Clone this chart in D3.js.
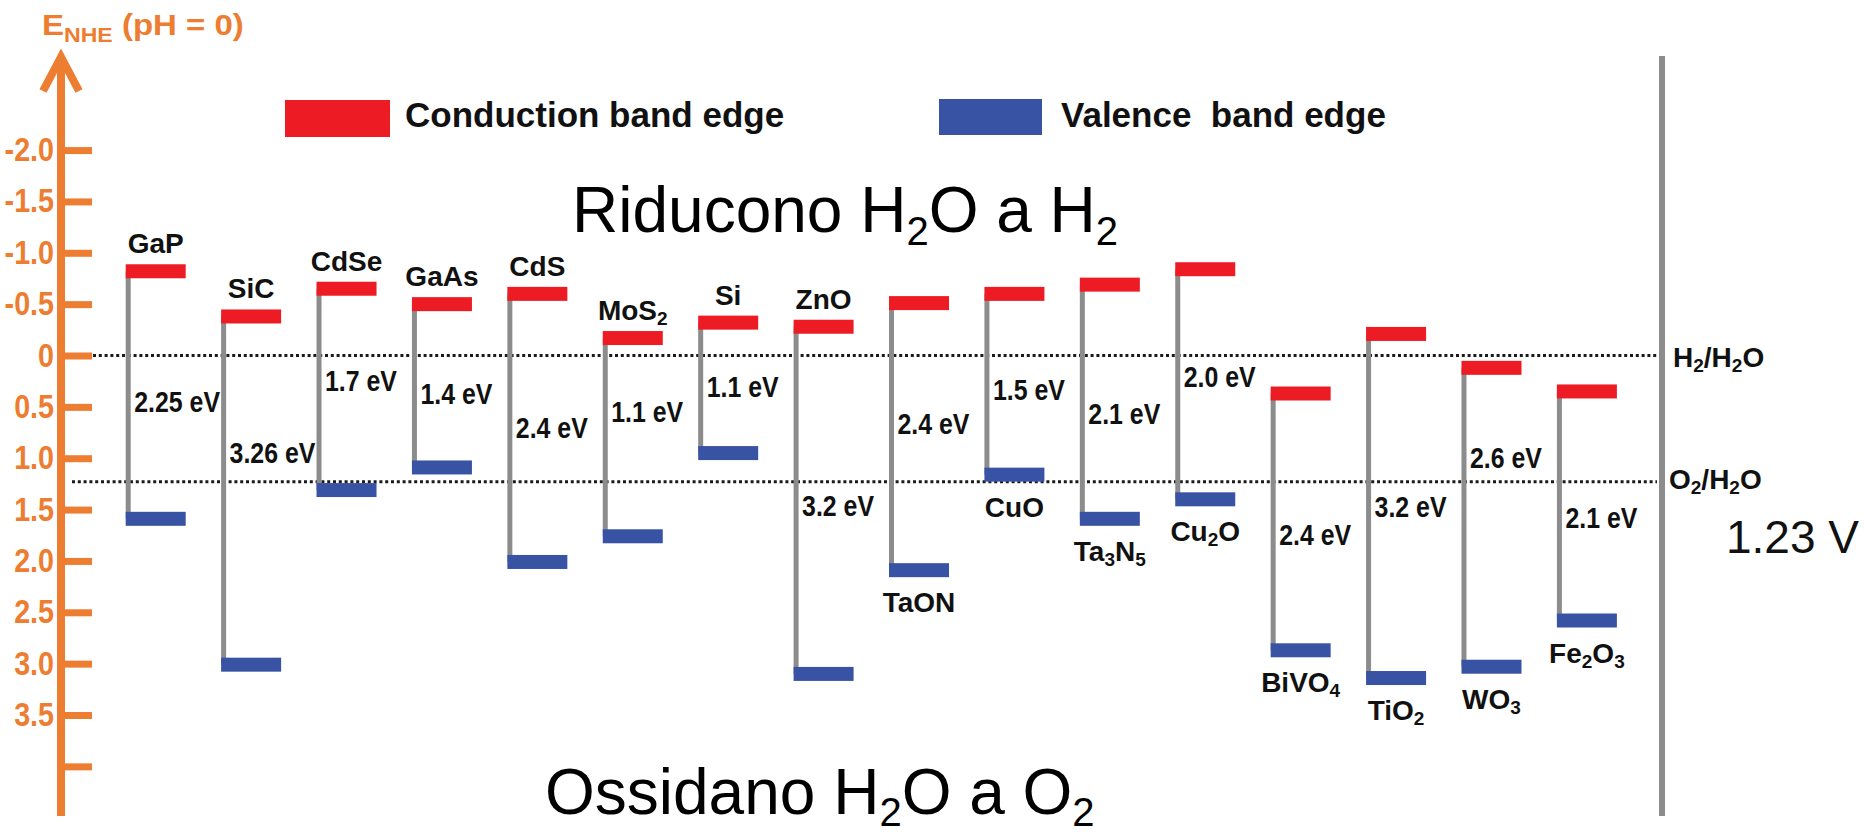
<!DOCTYPE html>
<html>
<head>
<meta charset="utf-8">
<script src="https://cdn.jsdelivr.net/npm/d3@7"></script>
<style>
  body { margin: 0; background: #fff; }
  svg { display: block; font-family: "Liberation Sans", Arial, sans-serif; }
</style>
</head>
<body>
<svg id="chart" width="1865" height="836"></svg>
<script>

// band edges vs NHE (eV)
var materials = ["GaP","SiC","CdSe","GaAs","CdS","MoS2","Si","ZnO","TaON","CuO","Ta3N5","Cu2O","BiVO4","TiO2","WO3","Fe2O3"];
var conductionBand = [-0.82,-0.38,-0.65,-0.50,-0.60,-0.17,-0.32,-0.28,-0.51,-0.60,-0.69,-0.84,0.37,-0.21,0.12,0.35];
var valenceBand = [1.59,3.01,1.31,1.09,2.01,1.76,0.95,3.10,2.09,1.16,1.59,1.40,2.87,3.14,3.03,2.58];
var gapLabels = ["2.25 eV","3.26 eV","1.7 eV","1.4 eV","2.4 eV","1.1 eV","1.1 eV","3.2 eV","2.4 eV","1.5 eV","2.1 eV","2.0 eV","2.4 eV","3.2 eV","2.6 eV","2.1 eV"];
var namesBelow = ["TaON","CuO","Ta3N5","Cu2O","BiVO4","TiO2","WO3","Fe2O3"];

var tickValues = [-2,-1.5,-1,-0.5,0,0.5,1,1.5,2,2.5,3,3.5,4];
var tickLabels = ["-2.0","-1.5","-1.0","-0.5","0","0.5","1.0","1.5","2.0","2.5","3.0","3.5",""];

var redoxLevels = [0, 1.23];
var redoxLabels = ["H2/H2O","O2/H2O"];

// layout tweaks for the gap labels (px, from the line middle)
var labelNudge = [6,-38,-9,8,0,-26,-1,5,-13,5,12,-8,13,1,-60,12];

var ORANGE = "#ED7D31", RED = "#ED1C24", BLUE = "#3953A4", GREY = "#8c8c8c", INK = "#111";

var svg = d3.select("#chart");

var y = d3.scaleLinear().domain([0, 3.5]).range([355.5, 715]);
var x = d3.scalePoint().domain(materials).range([155.7, 1586.9]);

// digits become subscripts
function chem(sel, str, subSize, shift){
  var parts = str.match(/\d+|\D+/g), down = false;
  parts.forEach(function(p){
    var t = sel.append("tspan").text(p);
    if (/^\d+$/.test(p)){
      t.attr("font-size", subSize).attr("dy", shift);
      down = true;
    } else if (down){
      t.attr("dy", -shift);
      down = false;
    }
  });
}

// ---- axis
svg.append("line")
  .attr("x1", 61).attr("x2", 61).attr("y1", 57).attr("y2", 816)
  .attr("stroke", ORANGE).attr("stroke-width", 8);
svg.append("path")
  .attr("d", "M43,91L61,57L79,91")
  .attr("fill", "none").attr("stroke", ORANGE).attr("stroke-width", 8);

var axis = d3.axisLeft(y)
  .tickValues(tickValues)
  .tickSize(-31)
  .tickPadding(8)
  .tickFormat(function(d, i){ return tickLabels[i]; });

var ag = svg.append("g").attr("transform", "translate(61,0)").call(axis);
ag.select(".domain").remove();
ag.selectAll(".tick line").attr("stroke", ORANGE).attr("stroke-width", 7);
ag.selectAll(".tick text")
  .attr("fill", ORANGE)
  .attr("font-size", 33)
  .attr("font-weight", "bold")
  .attr("font-family", "Liberation Sans, Arial, sans-serif")
  .attr("transform", "scale(0.87,1)");

var title = svg.append("text")
  .attr("transform", "translate(42,35) scale(1.1,1)")
  .attr("fill", ORANGE).attr("font-size", 30).attr("font-weight", "bold");
title.append("tspan").text("E");
title.append("tspan").attr("font-size", 21).attr("dy", 7).text("NHE");
title.append("tspan").attr("dy", -7).text(" (pH = 0)");

// ---- redox levels
svg.selectAll(".redox")
  .data(redoxLevels)
  .enter().append("line")
    .attr("x1", function(d, i){ return i == 0 ? 93 : 72; })
    .attr("x2", 1657)
    .attr("y1", function(d){ return y(d); })
    .attr("y2", function(d){ return y(d); })
    .attr("stroke", "#1a1a1a")
    .attr("stroke-width", 3)
    .attr("stroke-dasharray", "3 2.8");

redoxLabels.forEach(function(lab, i){
  var t = svg.append("text")
    .attr("x", i == 0 ? 1673 : 1669)
    .attr("y", y(redoxLevels[i]) + (i == 0 ? 11 : 7))
    .attr("fill", INK).attr("font-size", 28).attr("font-weight", "bold");
  chem(t, lab, 19, 5);
});

svg.append("line")
  .attr("x1", 1662).attr("x2", 1662).attr("y1", 56).attr("y2", 816)
  .attr("stroke", GREY).attr("stroke-width", 6);

svg.append("text")
  .attr("x", 1726).attr("y", 553)
  .attr("fill", INK).attr("font-size", 46)
  .text("1.23 V");

// ---- bands
var data = materials.map(function(m, i){
  return {name: m, cb: conductionBand[i], vb: valenceBand[i], gap: gapLabels[i], i: i};
});

var mat = svg.selectAll(".mat").data(data).enter().append("g").attr("class", "mat");

mat.append("line")
  .attr("x1", function(d){ return x(d.name) - 27.5; })
  .attr("x2", function(d){ return x(d.name) - 27.5; })
  .attr("y1", function(d){ return y(d.cb); })
  .attr("y2", function(d){ return y(d.vb); })
  .attr("stroke", GREY).attr("stroke-width", 5);

mat.append("rect")
  .attr("x", function(d){ return x(d.name) - 30; })
  .attr("y", function(d){ return y(d.cb) - 7; })
  .attr("width", 60).attr("height", 14)
  .attr("fill", RED);

mat.append("rect")
  .attr("x", function(d){ return x(d.name) - 30; })
  .attr("y", function(d){ return y(d.vb) - 7; })
  .attr("width", 60).attr("height", 14)
  .attr("fill", BLUE);

mat.append("text")
  .attr("transform", function(d){
    var mid = (y(d.cb) + y(d.vb)) / 2 + labelNudge[d.i];
    return "translate(" + (x(d.name) - 21.5) + "," + (mid + 10.5) + ") scale(0.83,1)";
  })
  .attr("fill", INK).attr("font-size", 30).attr("font-weight", "bold")
  .text(function(d){ return d.gap; });

mat.each(function(d){
  var below = namesBelow.indexOf(d.name) >= 0;
  var t = d3.select(this).append("text")
    .attr("x", x(d.name))
    .attr("y", below ? y(d.vb) + 42 : y(d.cb) - 18)
    .attr("text-anchor", "middle")
    .attr("fill", INK).attr("font-size", 28).attr("font-weight", "bold");
  chem(t, d.name, 19, 5);
});

// ---- legend
svg.append("rect").attr("x", 285).attr("y", 100).attr("width", 105).attr("height", 37).attr("fill", RED);
svg.append("text").attr("x", 405).attr("y", 127)
  .attr("fill", INK).attr("font-size", 35).attr("font-weight", "bold")
  .text("Conduction band edge");
svg.append("rect").attr("x", 939).attr("y", 99).attr("width", 103).attr("height", 36).attr("fill", BLUE);
svg.append("text").attr("x", 1061).attr("y", 127)
  .attr("fill", INK).attr("font-size", 35).attr("font-weight", "bold")
  .attr("xml:space", "preserve").style("white-space", "pre")
  .text("Valence  band edge");

// ---- big captions
var capTop = svg.append("text").attr("x", 572).attr("y", 232)
  .attr("fill", "#000").attr("font-size", 64);
chem(capTop, "Riducono H2O a H2", 40, 13);

var capBottom = svg.append("text").attr("x", 545).attr("y", 814)
  .attr("fill", "#000").attr("font-size", 64);
chem(capBottom, "Ossidano H2O a O2", 40, 12);

</script>
</body>
</html>
